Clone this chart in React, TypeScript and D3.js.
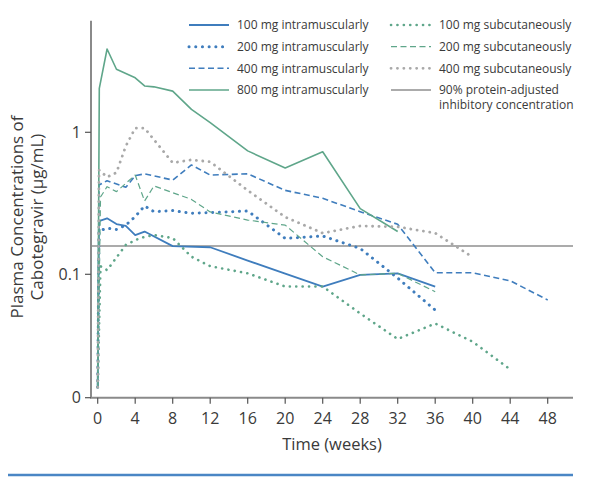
import React from "react";
import * as d3 from "d3";

type Pt = [number, number];

// weeks, μg/mL
const im100: Pt[] = [[0, 0.016], [0.14, 0.237], [1, 0.248], [2, 0.226], [3, 0.219], [4, 0.189], [5, 0.2], [8, 0.158], [12, 0.155], [16, 0.125], [20, 0.101], [24, 0.082], [28, 0.099], [32, 0.1016], [36, 0.082]];
const im200: Pt[] = [[0, 0.016], [0.14, 0.202], [1, 0.211], [2, 0.207], [3, 0.222], [4, 0.255], [5, 0.303], [6, 0.276], [8, 0.281], [10, 0.269], [12, 0.272], [16, 0.279], [20, 0.179], [24, 0.186], [28, 0.152], [32, 0.094], [36, 0.056]];
const im400: Pt[] = [[0, 0.016], [0.14, 0.425], [1, 0.456], [3, 0.41], [4, 0.495], [5, 0.51], [8, 0.461], [10, 0.589], [12, 0.5], [16, 0.51], [20, 0.39], [24, 0.343], [28, 0.276], [32, 0.225], [36, 0.1026], [40, 0.1026], [44, 0.09], [48, 0.066]];
const im800: Pt[] = [[0, 0.016], [0.17, 2.04], [1, 3.86], [2, 2.78], [4, 2.42], [5, 2.12], [6, 2.09], [8, 1.95], [10, 1.45], [12, 1.17], [16, 0.74], [20, 0.56], [24, 0.73], [28, 0.29], [32, 0.2]];
const sc100: Pt[] = [[0, 0.016], [0.3, 0.114], [1, 0.107], [3, 0.161], [4.5, 0.18], [6, 0.189], [8, 0.18], [10, 0.133], [12, 0.114], [16, 0.1016], [20, 0.082], [24, 0.082], [28, 0.053], [32, 0.035], [36, 0.045], [40, 0.0335], [44, 0.0214]];
const sc200: Pt[] = [[0, 0.016], [0.3, 0.35], [1, 0.414], [2, 0.382], [4, 0.5], [5, 0.328], [6, 0.419], [10, 0.337], [12, 0.275], [16, 0.241], [20, 0.222], [24, 0.133], [28, 0.099], [32, 0.1016], [36, 0.0754]];
const sc400: Pt[] = [[0, 0.016], [0.14, 0.543], [1, 0.484], [2, 0.52], [3, 0.8], [4, 1.07], [5, 1.07], [8, 0.61], [10, 0.64], [12, 0.62], [16, 0.39], [20, 0.253], [24, 0.195], [28, 0.219], [32, 0.216], [36, 0.195], [40, 0.132]];
const ic90 = 0.158;

const xTicks = [0, 4, 8, 12, 16, 20, 24, 28, 32, 36, 40, 44, 48];
const yTickLabels = ["0", "0.1", "1"];

const BLUE = "#3f7dbd";
const GREEN = "#5fa68a";
const GRAY = "#a9a9a9";
const AXIS = "#8a8a8a";
const TEXT = "#3a3a3a";
const FONT = "'Open Sans', 'Noto Sans', sans-serif";

type Style = { color: string; width: number; dash?: string; round?: boolean };
const series: { label: string; data: Pt[]; style: Style }[] = [
  { label: "100 mg intramuscularly", data: im100, style: { color: BLUE, width: 1.8 } },
  { label: "200 mg intramuscularly", data: im200, style: { color: BLUE, width: 3, dash: "0.1 6.6", round: true } },
  { label: "400 mg intramuscularly", data: im400, style: { color: BLUE, width: 1.6, dash: "6 3.5" } },
  { label: "800 mg intramuscularly", data: im800, style: { color: GREEN, width: 1.6 } },
  { label: "100 mg subcutaneously", data: sc100, style: { color: GREEN, width: 2.6, dash: "0.1 6.3", round: true } },
  { label: "200 mg subcutaneously", data: sc200, style: { color: GREEN, width: 1.2, dash: "6 3.5" } },
  { label: "400 mg subcutaneously", data: sc400, style: { color: GRAY, width: 2.8, dash: "0.1 6.3", round: true } },
];

export default function App() {
  const W = 600, H = 481;
  const axisX = 91, plotTop = 20.7, plotBottom = 397.7, axisRight = 573;
  const x = d3.scaleLinear().domain([0, 48]).range([97.7, 547.7]);
  const y = d3.scaleLog().domain([0.1, 1]).range([274.3, 132.3]);
  const yBottom = y.invert(plotBottom);
  const yTickVals = [yBottom, 0.1, 1];
  const line = d3.line<Pt>().x(d => x(d[0])).y(d => y(d[1]));

  const legendCol1 = [series[0], series[1], series[2], series[3]];
  const legendCol2 = [series[4], series[5], series[6]];
  const rowY = [25, 46.7, 68.3, 90];
  const LFS = 12;

  const strokeProps = (s: Style) => ({
    stroke: s.color,
    strokeWidth: s.width,
    strokeDasharray: s.dash,
    strokeLinecap: (s.round ? "round" : "butt") as any,
    strokeLinejoin: "round" as any,
    fill: "none",
  });

  return (
    <svg width={W} height={H} style={{ position: "absolute", left: 0, top: 0, background: "#fff" }} fontFamily={FONT}>
      {/* reference line */}
      <line x1={axisX} x2={axisRight} y1={y(ic90)} y2={y(ic90)} stroke="#8f8f8f" strokeWidth={1.5} />
      {/* series */}
      {series.map((s, i) => (
        <path key={i} d={line(s.data) || ""} {...strokeProps(s.style)} />
      ))}
      {/* axes */}
      <line x1={axisX} x2={axisX} y1={plotTop} y2={plotBottom} stroke={AXIS} strokeWidth={2} />
      <line x1={axisX - 1} x2={axisRight} y1={plotBottom} y2={plotBottom} stroke={AXIS} strokeWidth={2} />
      {yTickVals.map((v, i) => (
        <g key={i}>
          <line x1={axisX - 6} x2={axisX} y1={y(v)} y2={y(v)} stroke="#555" strokeWidth={1.2} />
          <text x={axisX - 10} y={y(v)} dy="0.36em" textAnchor="end" fontSize={16} fill={TEXT}>{yTickLabels[i]}</text>
        </g>
      ))}
      {xTicks.map(t => (
        <g key={t}>
          <line x1={x(t)} x2={x(t)} y1={plotBottom} y2={plotBottom + 6} stroke="#555" strokeWidth={1.2} />
          <text x={x(t)} y={plotBottom + 26} textAnchor="middle" fontSize={16} fill={TEXT}>{t}</text>
        </g>
      ))}
      <text x={(axisX + axisRight) / 2} y={450} textAnchor="middle" fontSize={16.5} fill={TEXT}>Time (weeks)</text>
      <g transform="translate(0,217) rotate(-90)" fontSize={17} fill={TEXT} textAnchor="middle">
        <text x={0} y={23}>Plasma Concentrations of</text>
        <text x={0} y={43}>Cabotegravir (μg/mL)</text>
      </g>
      {/* legend */}
      {legendCol1.map((s, i) => (
        <g key={s.label}>
          <line x1={189} x2={229} y1={rowY[i]} y2={rowY[i]} {...strokeProps(s.style)} />
          <text x={237} y={rowY[i]} dy="0.36em" fontSize={LFS} fill={TEXT}>{s.label}</text>
        </g>
      ))}
      {legendCol2.map((s, i) => (
        <g key={s.label}>
          <line x1={391} x2={431} y1={rowY[i]} y2={rowY[i]} {...strokeProps(s.style)} />
          <text x={439} y={rowY[i]} dy="0.36em" fontSize={LFS} fill={TEXT}>{s.label}</text>
        </g>
      ))}
      <line x1={391} x2={431} y1={rowY[3]} y2={rowY[3]} stroke="#8f8f8f" strokeWidth={1.5} />
      <text x={439} y={rowY[3]} dy="0.36em" fontSize={LFS} fill={TEXT}>
        <tspan x={439}>90% protein-adjusted</tspan>
        <tspan x={439} dy={15}>inhibitory concentration</tspan>
      </text>
      {/* bottom rule */}
      <line x1={8} x2={573} y1={475} y2={475} stroke="#4a86c5" strokeWidth={2.5} />
    </svg>
  );
}
